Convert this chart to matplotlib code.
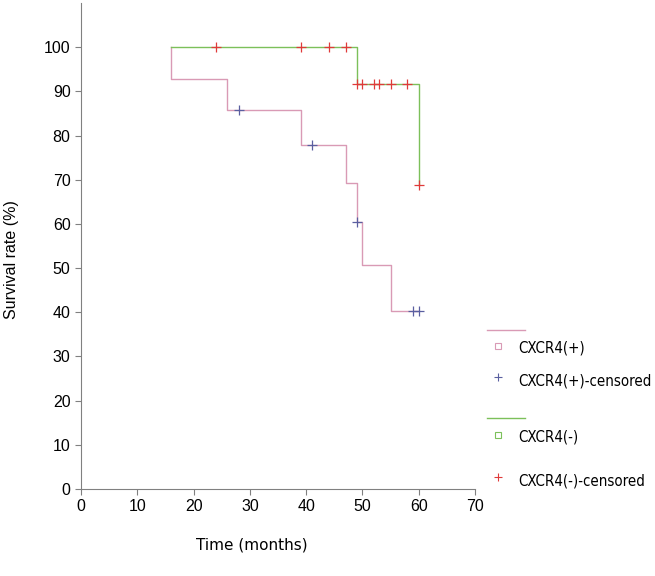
import numpy as np
import matplotlib
matplotlib.use("Agg")
import matplotlib.pyplot as plt
from matplotlib.lines import Line2D

# survival curves (step changes), months vs %
pos_t = [16, 16, 26, 39, 47, 49, 50, 55, 60]
pos_s = [100, 92.9, 85.7, 77.8, 69.2, 60.5, 50.6, 40.4, 40.4]
pos_cens_t = [28, 41, 49, 59, 60]
pos_cens_s = [85.7, 77.8, 60.5, 40.4, 40.4]

neg_t = [16, 49, 60, 60]
neg_s = [100, 91.6, 68.7, 68.7]
neg_cens_t = [24, 39, 44, 47, 49, 50, 52, 53, 55, 58, 60]
neg_cens_s = [100, 100, 100, 100, 91.6, 91.6, 91.6, 91.6, 91.6, 91.6, 68.7]

labels = ["CXCR4(+)", "CXCR4(+)-censored", "CXCR4(-)", "CXCR4(-)-censored"]

c_pos = "#d99ab5"
c_neg = "#7cc05a"
c_pos_cens = "#5a5fa0"
c_neg_cens = "#e03a3a"
gray = "#808080"

fig = plt.figure(figsize=(6.55, 5.76), dpi=100)
ax = fig.add_axes([0.1237, 0.151, 0.6015, 0.8438])

ax.step(pos_t, pos_s, where="post", color=c_pos, lw=1.0)
ax.step(neg_t, neg_s, where="post", color=c_neg, lw=1.0)
ax.plot(pos_cens_t, pos_cens_s, ls="none", marker="+", ms=7, mew=0.9, color=c_pos_cens)
ax.plot(neg_cens_t, neg_cens_s, ls="none", marker="+", ms=7, mew=0.9, color=c_neg_cens)

ax.set_xlim(0, 70)
ax.set_ylim(0, 110)
ax.set_xticks(np.arange(0, 71, 10))
ax.set_yticks(np.arange(0, 101, 10))
for s in ["top", "right"]:
    ax.spines[s].set_visible(False)
for s in ["left", "bottom"]:
    ax.spines[s].set_color(gray)
ax.tick_params(colors=gray, length=4, direction="out", labelcolor="black")
for lab in ax.get_xticklabels() + ax.get_yticklabels():
    lab.set_fontfamily("Liberation Sans")
    lab.set_fontsize(11.5)

fig.text(0.385, 0.053, "Time (months)", ha="center", va="center",
         fontsize=11, family="DejaVu Sans")
fig.text(0.018, 0.55, "Survival rate (%)", ha="center", va="center",
         rotation=90, fontsize=11.5, family="Liberation Sans")

# SPSS-style legend on the right
lg = fig.add_axes([0, 0, 1, 1], facecolor="none")
lg.set_xlim(0, 655)
lg.set_ylim(576, 0)
lg.axis("off")
lg.add_line(Line2D([487, 525], [330, 330], color=c_pos, lw=1))
lg.add_line(Line2D([487, 525], [418, 418], color=c_neg, lw=1))
rows = [(348, "s", c_pos, labels[0]), (381, "+", c_pos_cens, labels[1]),
        (437, "s", c_neg, labels[2]), (481, "+", c_neg_cens, labels[3])]
for y, m, c, t in rows:
    if m == "s":
        lg.plot([498], [y - 2], marker="s", ms=4.5, mfc="none", mec=c, mew=0.8)
    else:
        lg.plot([498], [y - 4], marker="+", ms=6, mew=0.8, color=c)
    lg.text(518, y, t, ha="left", va="center", fontsize=10.8,
            family="DejaVu Sans", fontstretch="condensed")

fig.savefig("out.png", dpi=100)
